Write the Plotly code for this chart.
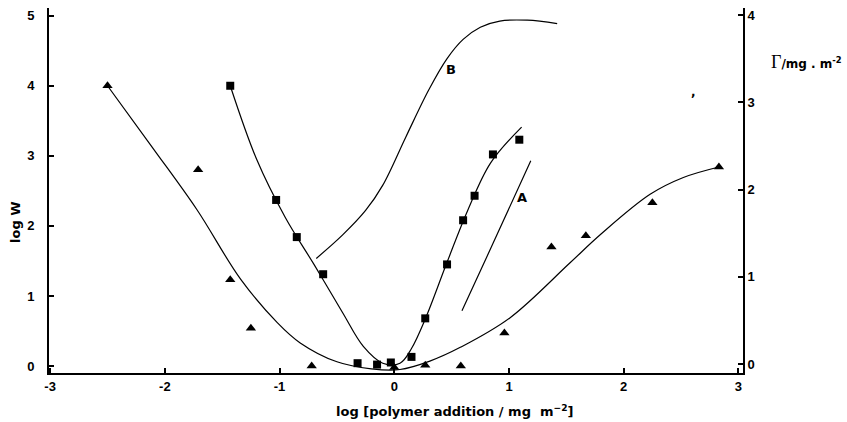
import plotly.graph_objects as go

# ---- data ----
tri_x = [-2.5, -1.71, -1.43, -1.25, -0.72, 0.0, 0.27, 0.58, 0.96, 1.37, 1.67, 2.25, 2.83]
tri_y = [4.0, 2.8, 1.23, 0.54, 0.0, -0.02, 0.01, 0.0, 0.47, 1.7, 1.86, 2.33, 2.84]

sq_x = [-1.43, -1.03, -0.85, -0.62, -0.32, -0.15, -0.03, 0.15, 0.27, 0.46, 0.6, 0.7, 0.86, 1.09]
sq_y = [4.0, 2.37, 1.84, 1.31, 0.04, 0.02, 0.05, 0.13, 0.68, 1.45, 2.08, 2.43, 3.02, 3.23]

tri_fit_x = [-2.5, -2.1, -1.72, -1.34, -1.02, -0.82, -0.5, -0.2, 0.05, 0.31, 0.58, 1.01, 1.53, 1.8, 2.23, 2.52, 2.83]
tri_fit_y = [4.0, 3.1, 2.23, 1.24, 0.62, 0.33, 0.06, -0.04, -0.05, 0.07, 0.27, 0.69, 1.47, 1.88, 2.45, 2.69, 2.84]

sq_fit_x = [-1.43, -1.2, -0.95, -0.7, -0.45, -0.27, -0.1, 0.05, 0.15, 0.27, 0.46, 0.64, 0.84, 1.11]
sq_fit_y = [4.0, 2.95, 2.12, 1.45, 0.76, 0.28, 0.04, 0.04, 0.25, 0.67, 1.48, 2.22, 2.9, 3.41]

# adsorbed amount curves (right axis, Gamma / mg m^-2)
curveB_x = [-0.68, -0.45, -0.25, -0.1, 0.1, 0.3, 0.46, 0.6, 0.75, 0.92, 1.16, 1.42]
curveB_y = [1.21, 1.48, 1.76, 2.05, 2.6, 3.14, 3.5, 3.72, 3.86, 3.93, 3.94, 3.9]
curveA_x = [0.59, 0.86, 1.19]
curveA_y = [0.61, 1.38, 2.33]

x_ticks = [-3, -2, -1, 0, 1, 2, 3]
x_ticktext = ["-3", "-2", "-1", "0", "1", "2", "3"]
yl_ticks = [0, 1, 2, 3, 4, 5]
yr_ticks = [0, 1, 2, 3, 4]

# ---- layout geometry ----
W, H = 847, 422
L, R, T, B = 49, 104, 8, 49
PW, PH = W - L - R, H - T - B

def px(xp):
    return (xp - L) / PW

def py(yp):
    return (H - B - yp) / PH

FONT = "Liberation Sans"
TFONT = "DejaVu Sans"
LINE = dict(color="black", width=1.2)

fig = go.Figure()
fig.add_trace(go.Scatter(x=tri_fit_x, y=tri_fit_y, mode="lines", line=dict(LINE, shape="spline", smoothing=1.0), showlegend=False))
fig.add_trace(go.Scatter(x=sq_fit_x, y=sq_fit_y, mode="lines", line=dict(LINE, shape="spline", smoothing=1.0), showlegend=False))
fig.add_trace(go.Scatter(x=curveB_x, y=curveB_y, mode="lines", yaxis="y2", line=dict(LINE, shape="spline", smoothing=1.0), showlegend=False))
fig.add_trace(go.Scatter(x=curveA_x, y=curveA_y, mode="lines", yaxis="y2", line=dict(LINE, shape="spline", smoothing=0.6), showlegend=False))
fig.add_trace(go.Scatter(x=tri_x, y=tri_y, mode="markers", marker=dict(symbol="triangle-up", size=9, color="black"), showlegend=False))
fig.add_trace(go.Scatter(x=sq_x, y=sq_y, mode="markers", marker=dict(symbol="square", size=8, color="black"), showlegend=False))

fig.update_layout(
    width=W, height=H,
    margin=dict(l=L, r=R, t=T, b=B),
    paper_bgcolor="white", plot_bgcolor="white",
    font=dict(family=FONT, color="black"),
    xaxis=dict(range=[-3.01, 3.04], tickvals=x_ticks, ticktext=x_ticktext,
               showgrid=False, zeroline=False, showline=True, linecolor="black", linewidth=2,
               ticks="inside", ticklen=5, tickwidth=1.5, tickcolor="black",
               tickfont=dict(family=FONT, size=13, color="black", weight="bold")),
    yaxis=dict(range=[-0.1, 5.11], tickvals=yl_ticks,
               showgrid=False, zeroline=False, showline=True, linecolor="black", linewidth=2,
               ticks="inside", ticklen=5, tickwidth=1.5, tickcolor="black", ticklabelstandoff=10,
               tickfont=dict(family=FONT, size=13, color="black", weight="bold")),
    yaxis2=dict(range=[-0.103, 4.08], tickvals=yr_ticks, overlaying="y", side="right",
                showgrid=False, zeroline=False, showline=True, linecolor="black", linewidth=2,
                ticks="inside", ticklen=5, tickwidth=1.5, tickcolor="black",
                tickfont=dict(family=FONT, size=13, color="black", weight="bold")),
    annotations=[
        dict(text="<b>log [polymer addition / mg  m<sup>−2</sup>]</b>", xref="paper", yref="paper",
             x=px(454), y=py(411), showarrow=False, font=dict(family=TFONT, size=13),
             xanchor="center", yanchor="middle"),
        dict(text="<b>log W</b>", xref="paper", yref="paper", x=px(15), y=py(222), textangle=-90,
             showarrow=False, font=dict(family=TFONT, size=13), xanchor="center", yanchor="middle"),
        dict(text="<span style='font-family:Liberation Serif;font-size:18px'>Γ</span><b>/mg . m<sup>-2</sup></b>",
             xref="paper", yref="paper", x=px(769), y=py(62), showarrow=False,
             font=dict(family=TFONT, size=12), xanchor="left", yanchor="middle"),
        dict(text="<b>B</b>", xref="paper", yref="paper", x=px(451), y=py(70), showarrow=False,
             font=dict(family=TFONT, size=13), xanchor="center", yanchor="middle"),
        dict(text="<b>A</b>", xref="paper", yref="paper", x=px(522), y=py(197), showarrow=False,
             font=dict(family=TFONT, size=13), xanchor="center", yanchor="middle"),
        dict(text="<b>,</b>", xref="paper", yref="paper", x=px(693), y=py(92), showarrow=False,
             font=dict(family=TFONT, size=12), xanchor="center", yanchor="middle"),
    ],
)

fig.write_html("out.html")
